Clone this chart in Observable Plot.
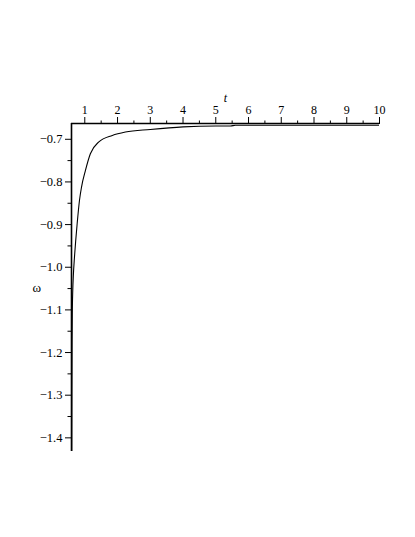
<!DOCTYPE html>
<html>
<head>
<meta charset="utf-8">
<script src="https://cdn.jsdelivr.net/npm/d3@7"></script>
<script src="https://cdn.jsdelivr.net/npm/@observablehq/plot@0.6"></script>
<style>
  html, body { margin: 0; padding: 0; background: #fff; }
  svg, svg text { font-family: "Liberation Serif", "DejaVu Serif", serif !important; }
</style>
</head>
<body>
<div id="chart"></div>
<script>
// Curve samples
const tValues = [0.602, 0.606, 0.612, 0.618, 0.633, 0.65, 0.685, 0.72, 0.768, 0.838, 0.9, 1.02, 1.17, 1.43, 1.84, 2.24, 3, 4, 5, 5.45, 5.6, 7, 10];
const omegaValues = [-1.432, -1.3, -1.17, -1.11, -1.054, -1.02, -0.976, -0.94, -0.897, -0.843, -0.812, -0.773, -0.734, -0.706, -0.691, -0.683, -0.677, -0.671, -0.669, -0.669, -0.667, -0.667, -0.667];

// Axis ticks
const xMajorTicks = [1, 2, 3, 4, 5, 6, 7, 8, 9, 10];
const xMinorTicks = [1.5, 2.5, 3.5, 4.5, 5.5, 6.5, 7.5, 8.5, 9.5];
const yMajorTicks = [-0.7, -0.8, -0.9, -1.0, -1.1, -1.2, -1.3, -1.4];
const yMinorTicks = [-0.75, -0.85, -0.95, -1.05, -1.15, -1.25, -1.35];

const xDomain = [0.594, 10];
const yDomain = [-1.432, -0.663];

const data = tValues.map((t, i) => ({t, w: omegaValues[i]}));

const chart = Plot.plot({
  width: 415,
  height: 537,
  marginLeft: 71,
  marginRight: 36,
  marginTop: 123,
  marginBottom: 86,
  style: {fontSize: "12px", color: "#000", background: "#fff"},
  x: {domain: xDomain},
  y: {domain: yDomain},
  marks: [
    Plot.axisX({anchor: "top", ticks: xMajorTicks, tickSize: 7, tickPadding: 3, tickFormat: d3.format("d"), label: null, fontSize: 12}),
    Plot.axisX({anchor: "top", ticks: xMinorTicks, tickSize: 3.5, text: null, label: null}),
    Plot.axisY({anchor: "left", ticks: yMajorTicks, tickSize: 6, tickPadding: 3, tickFormat: d3.format(".1f"), label: null, fontSize: 12.5}),
    Plot.axisY({anchor: "left", ticks: yMinorTicks, tickSize: 3.5, text: null, label: null}),
    Plot.ruleY([yDomain[1]], {stroke: "#000", strokeWidth: 1.3}),
    Plot.ruleX([xDomain[0]], {stroke: "#000", strokeWidth: 1.6}),
    Plot.line(data, {x: "t", y: "w", stroke: "#000", strokeWidth: 1.1, curve: "monotone-x", clip: true}),
    Plot.text(["t"], {frameAnchor: "top", dy: -30, fontStyle: "italic", fontSize: 12}),
    Plot.text(["ω"], {frameAnchor: "left", dx: -39, fontSize: 13})
  ]
});

document.getElementById("chart").appendChild(chart);
</script>
</body>
</html>
